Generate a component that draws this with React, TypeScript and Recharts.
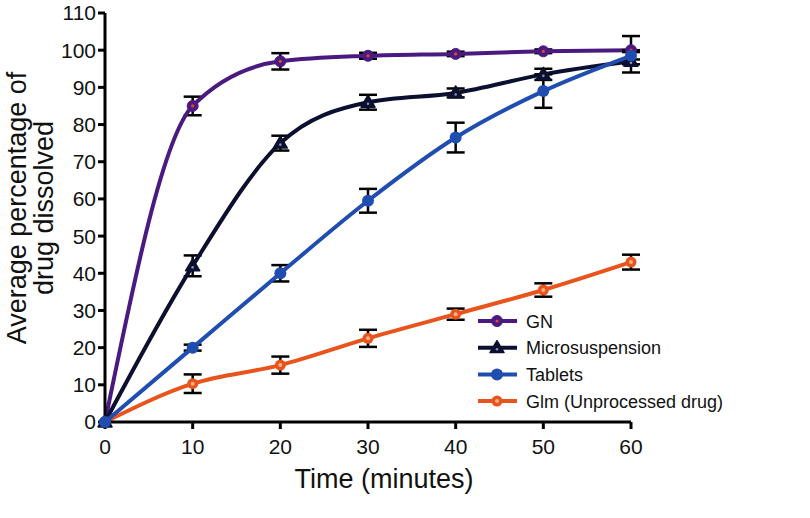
import {
  ErrorBar,
  Label,
  Line,
  LineChart,
  XAxis,
  YAxis,
} from 'recharts'

const times = [0, 10, 20, 30, 40, 50, 60]
const gn = [0, 85, 97, 98.5, 99, 99.7, 100]
const gnErr = [0, 2.5, 2.2, 0.8, 0.6, 0.5, 3.8]
const micro = [0, 42, 75, 86, 88.5, 93.5, 97]
const microErr = [0, 2.8, 2, 2, 1.2, 1.5, 3]
const tablets = [0, 20, 40, 59.5, 76.5, 89, 98.5]
const tabletsErr = [0, 0.8, 2.2, 3.2, 4, 4.5, 1]
const glm = [0, 10.3, 15.3, 22.5, 29, 35.5, 43]
const glmErr = [0, 2.5, 2.3, 2.3, 1.5, 1.8, 2]

const xTicks = [0, 10, 20, 30, 40, 50, 60]
const yTicks = [0, 10, 20, 30, 40, 50, 60, 70, 80, 90, 100, 110]

const COLOURS = {
  gn: '#4b1a80',
  micro: '#0b1030',
  tablets: '#1f4db0',
  glm: '#e8541c',
}

const chartData = times.map((t, i) => ({
  time: t,
  gn: gn[i],
  gnErr: gnErr[i],
  micro: micro[i],
  microErr: microErr[i],
  tablets: tablets[i],
  tabletsErr: tabletsErr[i],
  glm: glm[i],
  glmErr: glmErr[i],
}))

const FONT = '"Liberation Sans", Arial, sans-serif'

function Marker({ kind, cx, cy }: { kind: string; cx: number; cy: number }) {
  if (kind === 'gn') {
    return (
      <g>
        <circle cx={cx} cy={cy} r={5.5} fill={COLOURS.gn} stroke={COLOURS.gn} strokeWidth={1} />
        <circle cx={cx} cy={cy} r={1.6} fill="#e0482a" />
      </g>
    )
  }
  if (kind === 'micro') {
    const s = 7
    return (
      <g>
        <polygon
          points={`${cx},${cy - s} ${cx - s},${cy + s * 0.7} ${cx + s},${cy + s * 0.7}`}
          fill={COLOURS.micro}
          stroke={COLOURS.micro}
          strokeWidth={1.5}
          strokeLinejoin="round"
        />
        <circle cx={cx} cy={cy + 1.5} r={1.3} fill="#8a90b0" />
      </g>
    )
  }
  if (kind === 'tablets') {
    return <circle cx={cx} cy={cy} r={6} fill={COLOURS.tablets} />
  }
  return (
    <g>
      <circle cx={cx} cy={cy} r={5.5} fill={COLOURS.glm} />
      <circle cx={cx} cy={cy} r={2} fill="#f7b08a" />
    </g>
  )
}

const legendItems = [
  { kind: 'gn', label: 'GN', colour: COLOURS.gn },
  { kind: 'micro', label: 'Microsuspension', colour: COLOURS.micro },
  { kind: 'tablets', label: 'Tablets', colour: COLOURS.tablets },
  { kind: 'glm', label: 'Glm (Unprocessed drug)', colour: COLOURS.glm },
]

function ChartLegend() {
  return (
    <svg width={270} height={110} style={{ position: 'absolute', left: 474, top: 308 }}>
      {legendItems.map((item, i) => {
        const y = 13 + i * 26.7
        return (
          <g key={item.kind}>
            <line x1={4} x2={43} y1={y} y2={y} stroke={item.colour} strokeWidth={4} />
            <Marker kind={item.kind} cx={23} cy={y} />
            <text x={52} y={y + 6.5} fontSize={18} fontFamily={FONT} fill="#111">
              {item.label}
            </text>
          </g>
        )
      })}
    </svg>
  )
}

function YLabel() {
  const cy = 208
  return (
    <g>
      <text
        x={17}
        y={cy}
        transform={`rotate(-90, 17, ${cy})`}
        textAnchor="middle"
        dominantBaseline="central"
        fontSize={27}
        fontFamily={FONT}
        fill="#111"
      >
        Average percentage of
      </text>
      <text
        x={44}
        y={cy}
        transform={`rotate(-90, 44, ${cy})`}
        textAnchor="middle"
        dominantBaseline="central"
        fontSize={27}
        fontFamily={FONT}
        fill="#111"
      >
        drug dissolved
      </text>
    </g>
  )
}

function XLabel() {
  return (
    <text
      x={384}
      y={479}
      textAnchor="middle"
      dominantBaseline="central"
      fontSize={27}
      fontFamily={FONT}
      fill="#111"
    >
      Time (minutes)
    </text>
  )
}

const series = [
  { key: 'glm', err: 'glmErr' },
  { key: 'gn', err: 'gnErr' },
  { key: 'micro', err: 'microErr' },
  { key: 'tablets', err: 'tabletsErr' },
] as const

export default function App() {
  return (
    <div style={{ position: 'absolute', left: 0, top: 0, width: 810, height: 518, background: '#fff' }}>
      <LineChart
        width={810}
        height={518}
        data={chartData}
        margin={{ top: 13, right: 179, bottom: 36, left: 0 }}
      >
        <XAxis
          dataKey="time"
          type="number"
          domain={[0, 60]}
          ticks={xTicks}
          height={60}
          axisLine={{ stroke: '#000', strokeWidth: 3 }}
          tickLine={{ stroke: '#000', strokeWidth: 3 }}
          tickSize={7}
          tickMargin={10}
          tick={{ fill: '#111', fontSize: 21, fontFamily: FONT }}
        >
          <Label content={<XLabel />} />
        </XAxis>
        <YAxis
          type="number"
          domain={[0, 110]}
          ticks={yTicks}
          width={105}
          interval={0}
          axisLine={{ stroke: '#000', strokeWidth: 3 }}
          tickLine={{ stroke: '#000', strokeWidth: 3 }}
          tickSize={7}
          tick={{ fill: '#111', fontSize: 21, fontFamily: FONT }}
        >
          <Label content={<YLabel />} />
        </YAxis>
        {series.map((s) => (
          <Line
            key={s.key}
            dataKey={s.key}
            type="monotone"
            stroke={COLOURS[s.key]}
            strokeWidth={4}
            isAnimationActive={false}
            dot={(p: any) => <Marker key={`${s.key}-${p.index}`} kind={s.key} cx={p.cx} cy={p.cy} />}
            activeDot={false}
          >
            <ErrorBar dataKey={s.err} width={9} strokeWidth={2.5} stroke="#000" direction="y" />
          </Line>
        ))}
      </LineChart>
      <ChartLegend />
    </div>
  )
}
